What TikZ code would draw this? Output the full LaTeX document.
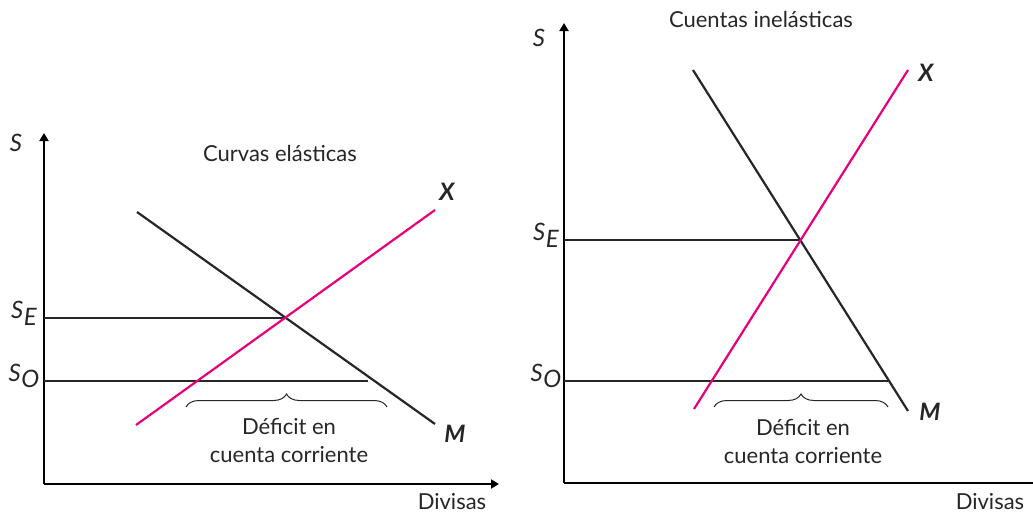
\documentclass[tikz,border=0pt]{standalone}
\usepackage{fontspec}
\setmainfont{Lato}
\usetikzlibrary{arrows.meta,decorations.pathreplacing}
\definecolor{expcol}{RGB}{230,0,126}
\newcommand{\slab}[1]{\textit{S}\kern0.5pt\raisebox{-0.55ex}{\textit{#1}}}
\tikzset{
  axis/.style={line width=2pt,-{Triangle[length=8pt,width=9pt]}},
  impline/.style={line width=2.2pt,black!85},
  expline/.style={line width=2.2pt,expcol},
  level/.style={line width=1.5pt,black!85},
  gap/.style={decorate,decoration={brace,amplitude=13pt},line width=1pt,black!85},
  txt/.style={font=\fontsize{22}{28}\selectfont,align=center,text=black!85,inner sep=0pt},
  slbl/.style={font=\fontsize{24}{28}\selectfont,text=black!85,inner sep=0pt},
  crv/.style={font=\fontsize{24}{26}\selectfont\bfseries\itshape,text=black!85,inner sep=0pt}
}
\begin{document}
\begin{tikzpicture}[x=1pt,y=-1pt]
\useasboundingbox (0,0) rectangle (1033,514);
% curvas elasticas
\coordinate (o1) at (44,484);
\coordinate (y1) at (44,133);
\coordinate (x1) at (499,484);
\draw[axis] (o1)--(y1);
\draw[axis] (o1)--(x1);
\coordinate (mA) at (137,212);
\coordinate (mB) at (435,424);
\coordinate (xA) at (136,425);
\coordinate (xB) at (435,210);
\coordinate (seA) at (44,318);
\coordinate (seB) at (285,318);
\coordinate (soA) at (44,381);
\coordinate (soB) at (368,381);
\draw[level] (seA)--(seB);
\draw[level] (soA)--(soB);
\draw[impline] (mA)--(mB);
\draw[expline] (xA)--(xB);
\coordinate (bA) at (387,407);
\coordinate (bB) at (186,407);
\draw[gap] (bB)--(bA);
\node[txt] (t1) at (280,153) {Curvas elásticas};
\node[txt] (d1) at (289,440) {Déficit en\\cuenta corriente};
\node[slbl] (s1) at (16,143) {\textit{S}};
\node[slbl] (se1) at (24,313) {\slab{E}};
\node[slbl] (so1) at (24,376) {\slab{O}};
\node[crv] (lx1) at (447,192) {X};
\node[crv] (lm1) at (455,434) {M};
\node[txt] (dv1) at (452,502) {Divisas};
% cuentas inelasticas
\coordinate (o2) at (564,483);
\coordinate (y2) at (564,23);
\coordinate (x2) at (1033,483);
\draw[axis] (o2)--(y2);
\draw[line width=2pt] (o2)--(x2);
\coordinate (mC) at (693,70);
\coordinate (mD) at (908,411);
\coordinate (xC) at (694,409);
\coordinate (xD) at (908,70);
\coordinate (seC) at (564,240);
\coordinate (seD) at (801,240);
\coordinate (soC) at (564,381);
\coordinate (soD) at (888,381);
\draw[level] (seC)--(seD);
\draw[level] (soC)--(soD);
\draw[impline] (mC)--(mD);
\draw[expline] (xC)--(xD);
\coordinate (bC) at (888,407);
\coordinate (bD) at (714,407);
\draw[gap] (bD)--(bC);
\node[txt] (t2) at (761,19) {Cuentas inelásticas};
\node[txt] (d2) at (803,441) {Déficit en\\cuenta corriente};
\node[slbl] (s2) at (539,38) {\textit{S}};
\node[slbl] (se2) at (546,235) {\slab{E}};
\node[slbl] (so2) at (546,376) {\slab{O}};
\node[crv] (lx2) at (926,73) {X};
\node[crv] (lm2) at (930,412) {M};
\node[txt] (dv2) at (990,502) {Divisas};
\end{tikzpicture}
\end{document}
